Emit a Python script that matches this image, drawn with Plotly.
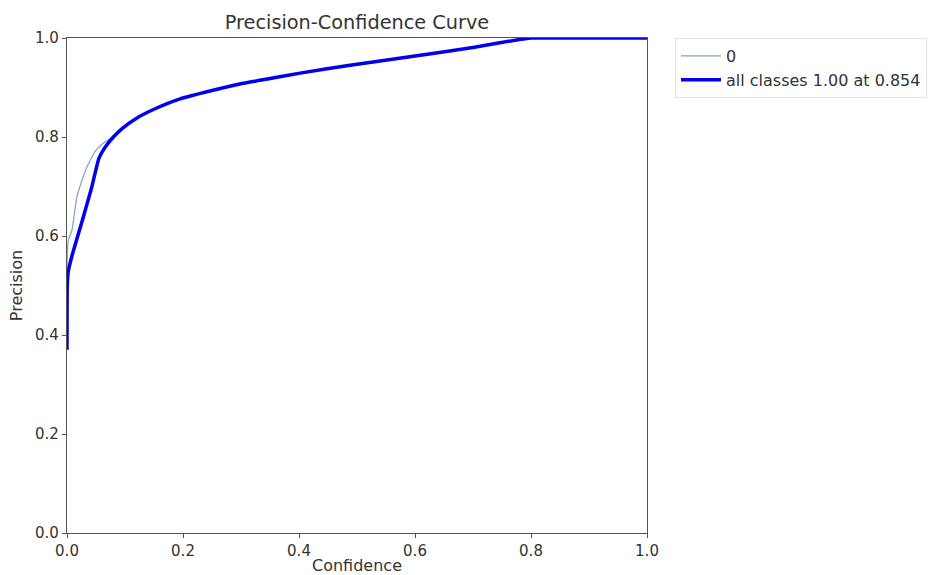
import plotly.graph_objects as go

# Data
conf_all = [0, 0.0005, 0.002, 0.0086, 0.026, 0.043, 0.055, 0.066, 0.08, 0.095, 0.12, 0.15,
            0.195, 0.25, 0.298, 0.35, 0.402, 0.488, 0.591, 0.70, 0.78, 0.80, 0.854, 1.0]
prec_all = [0.37, 0.50, 0.527, 0.560, 0.630, 0.700, 0.757, 0.780, 0.800, 0.817, 0.838, 0.856,
            0.877, 0.894, 0.907, 0.918, 0.929, 0.945, 0.962, 0.981, 0.997, 1.0, 1.0, 1.0]

conf_c0 = [0, 0.0005, 0.002, 0.0086, 0.017, 0.032, 0.049, 0.063, 0.08, 0.095, 0.12, 0.15,
           0.195, 0.25, 0.298, 0.35, 0.402, 0.488, 0.591, 0.70, 0.78, 0.80, 0.854, 1.0]
prec_c0 = [0.37, 0.56, 0.59, 0.612, 0.679, 0.733, 0.772, 0.788, 0.801, 0.817, 0.838, 0.856,
           0.877, 0.894, 0.907, 0.918, 0.929, 0.945, 0.962, 0.981, 0.997, 1.0, 1.0, 1.0]

label_c0 = "0"
label_all = "all classes 1.00 at 0.854"

fig = go.Figure()
fig.add_trace(go.Scatter(x=conf_c0, y=prec_c0, mode="lines", name=label_c0,
                         line=dict(color="#7fa3c4", width=1.2, shape="spline", smoothing=0.5)))
fig.add_trace(go.Scatter(x=conf_all, y=prec_all, mode="lines", name=label_all,
                         line=dict(color="#0000ee", width=3.5, shape="spline", smoothing=0.5)))

font = "DejaVu Sans"
txt = "#333333"
axis_common = dict(
    range=[0, 1], dtick=0.2, tickformat=".1f",
    showline=True, linecolor="#555555", linewidth=1.3, mirror=True,
    ticks="outside", ticklen=4, tickcolor="#555555",
    showgrid=False, zeroline=False,
    tickfont=dict(family=font, size=15, color=txt),
)
fig.update_layout(
    width=933, height=575,
    margin=dict(l=67, r=286, t=38, b=42, autoexpand=False),
    paper_bgcolor="white", plot_bgcolor="white",
    title=dict(text="Precision-Confidence Curve", x=357 / 933, xanchor="center",
               y=1 - 22 / 575, yanchor="middle",
               font=dict(family=font, size=19.3, color=txt)),
    xaxis=dict(**axis_common, title=dict(text="Confidence", standoff=2,
                                        font=dict(family=font, size=16, color=txt))),
    yaxis=dict(**axis_common, title=dict(text="Precision", standoff=8,
                                        font=dict(family=font, size=16, color=txt))),
    legend=dict(x=(675 - 67) / 580, y=(533 - 38) / 495, xanchor="left", yanchor="top",
                bordercolor="#e2e2e2", borderwidth=1, bgcolor="white",
                font=dict(family=font, size=16, color=txt),
                itemwidth=40, tracegroupgap=0),
    showlegend=True,
)

fig.write_html("out.html")
